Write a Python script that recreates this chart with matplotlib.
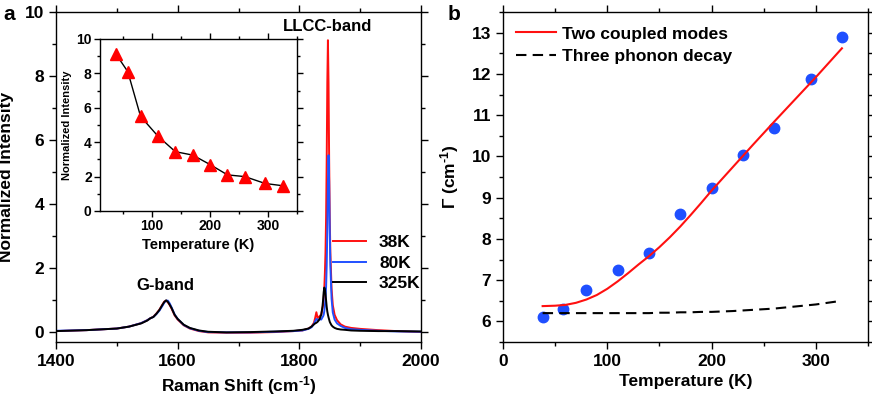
import numpy as np
import matplotlib
matplotlib.use('Agg')
from matplotlib import pyplot as plt
from matplotlib.ticker import MultipleLocator

plt.rcParams['font.family'] = ['Liberation Sans', 'DejaVu Sans']
plt.rcParams['font.weight'] = 'bold'
plt.rcParams['axes.labelweight'] = 'bold'
plt.rcParams['mathtext.fontset'] = 'custom'
plt.rcParams['mathtext.bf'] = 'Liberation Sans:bold'
plt.rcParams['mathtext.rm'] = 'Liberation Sans:bold'
plt.rcParams['mathtext.default'] = 'bf'

# --- panel a: Raman spectra (normalized to G-band) ---
wavenumber = [1400, 1450, 1500, 1520, 1540, 1550, 1555, 1560, 1565, 1570, 1575, 1578,
              1581, 1584, 1587, 1590, 1595, 1600, 1610, 1620, 1635, 1650, 1680, 1720,
              1760, 1790, 1805, 1815, 1820, 1824, 1826, 1828, 1830, 1833, 1836, 1838,
              1839, 1840, 1841, 1842, 1843, 1844, 1845, 1846, 1847, 1848, 1849, 1850,
              1851, 1853, 1855, 1858, 1862, 1868, 1875, 1885, 1900, 1930, 1960, 2000]
int_38K = [0.04, 0.07, 0.12, 0.18, 0.29, 0.38, 0.44, 0.49, 0.59, 0.71, 0.87, 0.96,
           0.99, 0.94, 0.85, 0.74, 0.53, 0.40, 0.22, 0.12, 0.04, 0.0, -0.01, -0.01,
           0.01, 0.04, 0.06, 0.12, 0.18, 0.30, 0.45, 0.63, 0.45, 0.50, 0.56, 0.75,
           0.85, 1.05, 1.36, 1.85, 2.50, 3.60, 5.40, 7.80, 9.12, 7.80, 5.40, 3.60,
           2.50, 1.36, 0.85, 0.55, 0.38, 0.25, 0.18, 0.14, 0.11, 0.07, 0.04, 0.01]
int_80K = [0.05, 0.07, 0.12, 0.18, 0.29, 0.38, 0.44, 0.48, 0.57, 0.68, 0.83, 0.93,
           0.99, 0.99, 0.90, 0.78, 0.56, 0.42, 0.23, 0.13, 0.05, 0.01, 0.0, 0.0,
           0.02, 0.04, 0.06, 0.11, 0.16, 0.26, 0.35, 0.42, 0.38, 0.42, 0.40, 0.47,
           0.50, 0.55, 0.66, 0.82, 1.05, 1.42, 2.10, 3.20, 4.70, 5.53, 4.70, 3.20,
           2.10, 1.05, 0.62, 0.40, 0.28, 0.20, 0.14, 0.10, 0.08, 0.05, 0.03, 0.02]
int_325K = [0.04, 0.07, 0.12, 0.18, 0.28, 0.37, 0.44, 0.48, 0.58, 0.70, 0.86, 0.95,
            1.0, 0.95, 0.86, 0.76, 0.55, 0.42, 0.24, 0.14, 0.06, 0.02, 0.0, 0.01,
            0.03, 0.05, 0.08, 0.12, 0.18, 0.25, 0.28, 0.30, 0.33, 0.40, 0.55, 0.80,
            1.00, 1.25, 1.40, 1.35, 1.20, 1.00, 0.80, 0.65, 0.55, 0.47, 0.40, 0.33,
            0.29, 0.22, 0.18, 0.14, 0.11, 0.09, 0.08, 0.06, 0.05, 0.04, 0.04, 0.03]
spectra_labels = ['38K', '80K', '325K']

# inset: LLCC-band intensity vs temperature
temps = [38, 58, 80, 110, 140, 170, 200, 230, 260, 295, 325]
llcc_intensity = [9.1, 8.1, 5.5, 4.35, 3.45, 3.25, 2.7, 2.1, 2.0, 1.6, 1.47]

# --- panel b: linewidth vs temperature ---
gamma = [6.1, 6.29, 6.75, 7.24, 7.65, 8.6, 9.24, 10.04, 10.7, 11.87, 12.9]
fit_T = [38, 50, 60, 70, 80, 90, 100, 110, 120, 130, 140, 150, 160, 170, 180,
         190, 200, 220, 240, 260, 280, 300, 325]
fit_coupled = [6.37, 6.38, 6.40, 6.45, 6.53, 6.64, 6.79, 6.97, 7.17, 7.38, 7.58,
               7.8, 8.04, 8.3, 8.58, 8.87, 9.17, 9.73, 10.29, 10.84, 11.38, 11.92, 12.62]
fit_three_phonon = [6.2, 6.2, 6.2, 6.2, 6.2, 6.2, 6.2, 6.2, 6.2, 6.2, 6.2,
                    6.21, 6.21, 6.22, 6.22, 6.23, 6.23, 6.25, 6.28, 6.31, 6.36, 6.41, 6.5]

W, H = 872, 397
fig = plt.figure(figsize=(W / 100, H / 100), dpi=100)


def frame(ax):
    ax.tick_params(which='both', direction='out', top=True, right=True, labelsize=12.5,
                   width=1)
    ax.tick_params(which='major', length=5)
    ax.tick_params(which='minor', length=3)
    for s in ax.spines.values():
        s.set_linewidth(1)


# panel a
ax1 = fig.add_axes([56 / W, 1 - 342 / H, 365 / W, 330 / H])
colors = ['#ff1010', '#2050ff', '#000000']
for y, c, lab in zip([int_38K, int_80K, int_325K], colors, spectra_labels):
    ax1.plot(wavenumber, y, color=c, lw=1.4, label=lab)
ax1.set_xlim(1400, 2000)
ax1.set_ylim(-0.3, 10)
ax1.xaxis.set_major_locator(MultipleLocator(200))
ax1.xaxis.set_minor_locator(MultipleLocator(100))
ax1.yaxis.set_major_locator(MultipleLocator(2))
ax1.yaxis.set_minor_locator(MultipleLocator(1))
frame(ax1)
ax1.set_xlabel(r'Raman Shift (cm$^{\text{-1}}$)', fontsize=12.5, labelpad=4)
ax1.set_ylabel('Normalized Intensity', fontsize=12.5, labelpad=8)
ax1.text(1847, 9.55, 'LLCC-band', ha='center', va='center', fontsize=12)
ax1.text(1579, 1.45, 'G-band', ha='center', va='center', fontsize=12)
ax1.legend(loc='center left', bbox_to_anchor=(0.759, 0.239), frameon=False,
           fontsize=12.5, handlelength=1.9, handletextpad=0.75, labelspacing=0.32,
           borderpad=0, borderaxespad=0)

# inset
axi = fig.add_axes([100 / W, 1 - 211 / H, 197 / W, 172 / H])
axi.plot(temps, llcc_intensity, color='black', lw=1, zorder=1)
axi.plot(temps, llcc_intensity, ls='none', marker='^', color='#ff0000', ms=8,
         mec='#ff0000', zorder=2)
axi.set_xlim(10, 350)
axi.set_ylim(0, 10)
axi.xaxis.set_major_locator(MultipleLocator(100))
axi.xaxis.set_minor_locator(MultipleLocator(50))
axi.yaxis.set_major_locator(MultipleLocator(2))
axi.yaxis.set_minor_locator(MultipleLocator(1))
frame(axi)
axi.tick_params(labelsize=10, pad=2)
axi.tick_params(which='major', length=4)
axi.tick_params(which='minor', length=2)
axi.set_xlabel('Temperature (K)', fontsize=10.5, labelpad=3)
axi.set_ylabel('Normalized Intensity', fontsize=8, labelpad=3)

# panel b
ax2 = fig.add_axes([503 / W, 1 - 342 / H, 365 / W, 330 / H])
ax2.plot(temps, gamma, ls='none', marker='o', color='#1f4fff', ms=7.5)
ax2.plot(fit_T, fit_coupled, color='#ff1010', lw=1.5, label='Two coupled modes')
ax2.plot(fit_T, fit_three_phonon, color='black', lw=1.5, dashes=(5, 3),
         label='Three phonon decay')
ax2.set_xlim(0, 350)
ax2.set_ylim(5.5, 13.5)
ax2.xaxis.set_major_locator(MultipleLocator(100))
ax2.xaxis.set_minor_locator(MultipleLocator(50))
ax2.yaxis.set_major_locator(MultipleLocator(1))
ax2.yaxis.set_minor_locator(MultipleLocator(0.5))
frame(ax2)
ax2.set_xlabel('Temperature (K)', fontsize=12.5, labelpad=4)
ax2.set_ylabel(r'Γ (cm$^{\text{-1}}$)', fontsize=12.5, labelpad=8)
ax2.legend(loc='center left', bbox_to_anchor=(0.036, 0.9),
           frameon=False, fontsize=12.5, handlelength=2.3, handletextpad=0.35,
           labelspacing=0.4, borderpad=0, borderaxespad=0)

fig.text(3 / W, 1 - 14 / H, 'a', fontsize=15, va='center', ha='left')
fig.text(448 / W, 1 - 15 / H, 'b', fontsize=15, va='center', ha='left')

fig.savefig('out.png', dpi=100)
